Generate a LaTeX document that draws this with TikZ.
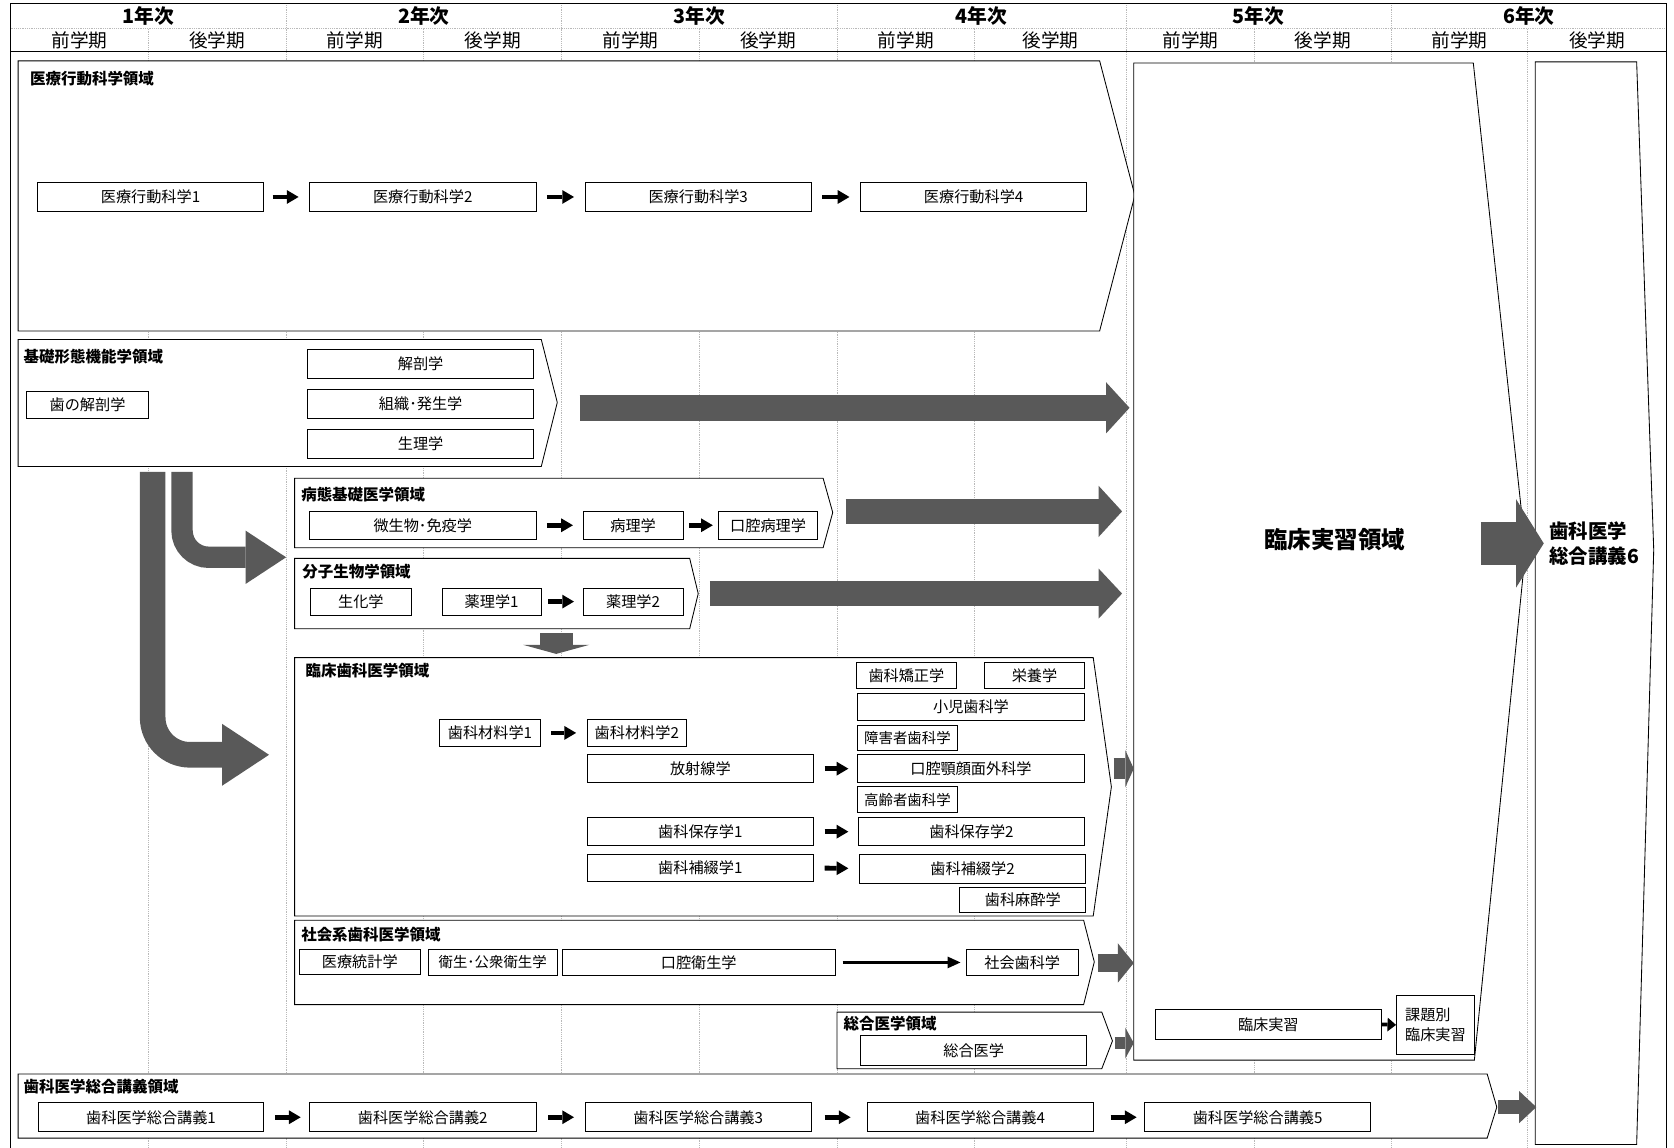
\documentclass[tikz,border=0pt]{standalone}
\usepackage{fontspec}
\setmainfont{Noto Sans CJK JP}
\usetikzlibrary{arrows.meta}
\definecolor{ag}{RGB}{89,89,89}
\definecolor{gridc}{RGB}{185,185,185}
\newcommand\bxfont{\fontsize{14.2}{19}\selectfont}
\newcommand\bx[7][]{\node[box,#1,minimum width={(#5)-(#3)},minimum height={(#6)-(#4)}] (#2) at ({((#3)+(#5))/2},{((#4)+(#6))/2}) {#7};}
\tikzset{
  box/.style={draw=black,fill=white,line width=0.7pt,inner sep=0pt,font=\bxfont},
  region/.style={draw=black,fill=white,line width=0.8pt,line join=miter},
  rtitle/.style={anchor=west,inner sep=0pt,font=\fontsize{14.5}{16}\selectfont\bfseries},
  gridline/.style={draw=gridc,line width=0.7pt,densely dotted},
  frameline/.style={draw=black,line width=1pt},
  blk/.style={line width=4.5pt,-{Triangle[length=11pt,width=13pt,line width=0pt]}},
  bigarr/.style n args={3}{draw=ag,line width=#1,-{Triangle[length=#2,width=#3,line width=0pt]}},
  yr/.style={font=\fontsize{18.5}{20}\selectfont\bfseries,inner sep=0pt},
  sem/.style={font=\fontsize{17.5}{19}\selectfont,inner sep=0pt},
}
\begin{document}
\begin{tikzpicture}[x=1pt,y=-1pt]
\useasboundingbox (0,0) rectangle (1568,1075);
% ---------- grid ----------
\foreach \gx in {268,526,784,1055,1303} \draw[gridline] (\gx,3) -- (\gx,1075);
\foreach \gx in {139,397,655,913,1175,1431} \draw[gridline] (\gx,27) -- (\gx,1075);
\draw[gridline] (10,27) -- (1561,27);
\draw[frameline] (10,3) -- (1561,3);
\draw[frameline] (10,48) -- (1561,48);
\draw[frameline] (10,3) -- (10,1075);
\draw[frameline] (1561,3) -- (1561,1075);
% ---------- header ----------
\node[yr] (y1) at (139,15) {1年次};
\node[yr] (y2) at (397,15) {2年次};
\node[yr] (y3) at (655,15) {3年次};
\node[yr] (y4) at (919.5,15) {4年次};
\node[yr] (y5) at (1179,15) {5年次};
\node[yr] (y6) at (1432,15) {6年次};
\node[sem] (s1a) at (74.5,38) {前学期};
\node[sem] (s1b) at (203.5,38) {後学期};
\node[sem] (s2a) at (332.5,38) {前学期};
\node[sem] (s2b) at (461.5,38) {後学期};
\node[sem] (s3a) at (590.5,38) {前学期};
\node[sem] (s3b) at (719.5,38) {後学期};
\node[sem] (s4a) at (848.5,38) {前学期};
\node[sem] (s4b) at (984,38) {後学期};
\node[sem] (s5a) at (1115,38) {前学期};
\node[sem] (s5b) at (1239,38) {後学期};
\node[sem] (s6a) at (1367,38) {前学期};
\node[sem] (s6b) at (1496,38) {後学期};
% ---------- regions ----------
\path[region] (17,57) -- (1030,57) -- (1063,183) -- (1030,310) -- (17,310) -- cycle;
\path[region] (17,318) -- (507,318) -- (522,377) -- (507,437) -- (17,437) -- cycle;
\path[region] (276,448) -- (771,448) -- (780,480) -- (771,513) -- (276,513) -- cycle;
\path[region] (276,523) -- (646,523) -- (654,556) -- (646,589) -- (276,589) -- cycle;
\path[region] (276,616) -- (1024,616) -- (1041,737) -- (1024,858) -- (276,858) -- cycle;
\path[region] (276,862) -- (1015,862) -- (1025,901) -- (1015,941) -- (276,941) -- cycle;
\path[region] (784,948) -- (1032,948) -- (1042,975) -- (1032,1001) -- (784,1001) -- cycle;
\path[region] (17,1006) -- (1393,1006) -- (1402,1037) -- (1393,1066) -- (17,1066) -- cycle;
\path[region] (1062,59) -- (1380,59) -- (1429,515) -- (1381,993) -- (1062,993) -- cycle;
\path[region] (1438,58) -- (1533,58) -- (1549,515) -- (1533,1072) -- (1438,1072) -- cycle;
% region titles
\node[rtitle] (t1) at (28,74) {医療行動科学領域};
\node[rtitle] (t2) at (22,334) {基礎形態機能学領域};
\node[rtitle] (t3) at (282,463) {病態基礎医学領域};
\node[rtitle] (t4) at (283,535) {分子生物学領域};
\node[rtitle] (t5) at (286,628) {臨床歯科医学領域};
\node[rtitle] (t6) at (282,875) {社会系歯科医学領域};
\node[rtitle] (t7) at (790,959) {総合医学領域};
\node[rtitle] (t8) at (22,1018) {歯科医学総合講義領域};
\node[font=\fontsize{22}{24}\selectfont\bfseries,inner sep=0pt] (t9) at (1250,505) {臨床実習領域};
\node[anchor=west,align=left,inner sep=0pt,font=\fontsize{18.2}{24}\selectfont\bfseries] (t10) at (1451,509) {歯科医学\\総合講義6};
% ---------- boxes ----------
\bx{m1}{35}{171}{247}{198}{医療行動科学1}
\bx{m2}{290}{171}{502}{198}{医療行動科学2}
\bx{m3}{548}{171}{760}{198}{医療行動科学3}
\bx{m4}{806}{171}{1018}{198}{医療行動科学4}
\bx{ha}{25}{367}{139}{392}{歯の解剖学}
\bx{kai}{288}{327}{500}{354}{解剖学}
\bx{sos}{288}{365}{500}{392}{組織･発生学}
\bx{sei}{288}{402}{500}{429}{生理学}
\bx{bi}{290}{479}{502}{505}{微生物･免疫学}
\bx{byo}{546}{479}{640}{505}{病理学}
\bx{kbyo}{673}{479}{766}{505}{口腔病理学}
\bx{seika}{291}{551}{385}{576}{生化学}
\bx{yak1}{414}{551}{507}{576}{薬理学1}
\bx{yak2}{546}{551}{640}{576}{薬理学2}
\bx{kyo}{802}{620}{896}{645}{歯科矯正学}
\bx{eiyo}{922}{620}{1016}{645}{栄養学}
\bx{shoni}{803}{649}{1016}{675}{小児歯科学}
\bx{zai1}{412}{674}{506}{699}{歯科材料学1}
\bx{zai2}{550}{674}{643}{699}{歯科材料学2}
\bx[font=\fontsize{13.5}{15}\selectfont]{sho}{803}{679}{897}{703}{障害者歯科学}
\bx{hou}{550}{707}{762}{733}{放射線学}
\bx{koku}{803}{707}{1016}{733}{口腔顎顔面外科学}
\bx[font=\fontsize{13.5}{15}\selectfont]{kou}{803}{737}{897}{761}{高齢者歯科学}
\bx{hoz1}{550}{766}{762}{792}{歯科保存学1}
\bx{hoz2}{804}{766}{1016}{792}{歯科保存学2}
\bx{hot1}{550}{800}{762}{826}{歯科補綴学1}
\bx{hot2}{805}{800}{1017}{827}{歯科補綴学2}
\bx{masui}{899}{831}{1017}{855}{歯科麻酔学}
\bx{iryo}{280}{889}{394}{913}{医療統計学}
\bx[font=\fontsize{13.5}{15}\selectfont]{eisei}{401}{889}{522}{914}{衛生･公衆衛生学}
\bx{koei}{527}{889}{782}{914}{口腔衛生学}
\bx{shakai}{905}{889}{1010}{914}{社会歯科学}
\bx{sogo}{806}{970}{1018}{998}{総合医学}
\bx{k1}{36}{1033}{247}{1060}{歯科医学総合講義1}
\bx{k2}{290}{1033}{502}{1060}{歯科医学総合講義2}
\bx{k3}{548}{1033}{760}{1060}{歯科医学総合講義3}
\bx{k4}{812}{1033}{1024}{1060}{歯科医学総合講義4}
\bx{k5}{1072}{1033}{1284}{1060}{歯科医学総合講義5}
\bx{cp}{1082}{945}{1294}{974}{臨床実習}
\bx[align=left]{kadai}{1308}{932}{1381}{988}{課題別\\臨床実習}
% ---------- small black arrows ----------
\draw[blk,shorten <=8pt,shorten >=10pt] (m1.east) -- (m2.west);
\draw[blk,shorten <=10pt,shorten >=10pt] (m2.east) -- (m3.west);
\draw[blk,shorten <=10pt,shorten >=10pt] (m3.east) -- (m4.west);
\draw[blk,shorten <=10pt,shorten >=9pt] (bi.east) -- (byo.west);
\draw[blk,shorten <=5pt,shorten >=5pt] (byo.east) -- (kbyo.west);
\draw[blk,shorten <=6pt,shorten >=8pt] (yak1.east) -- (yak2.west);
\draw[blk,shorten <=10pt,shorten >=10pt] (zai1.east) -- (zai2.west);
\draw[blk,shorten <=10pt,shorten >=8pt] (hou.east) -- (koku.west);
\draw[blk,shorten <=10pt,shorten >=9pt] (hoz1.east) -- (hoz2.west);
\draw[blk,shorten <=10pt,shorten >=10pt] (hot1.east) -- (hot2.west);
\draw[blk,shorten <=10pt,shorten >=8pt] (k1.east) -- (k2.west);
\draw[blk,shorten <=11pt,shorten >=10pt] (k2.east) -- (k3.west);
\draw[blk,shorten <=12pt,shorten >=15pt] (k3.east) -- (k4.west);
\draw[blk,shorten <=16pt,shorten >=7pt] (k4.east) -- (k5.west);
\draw[line width=2.5pt,-{Triangle[length=12pt,width=11pt,line width=0pt]},shorten <=7pt,shorten >=5pt] (koei.east) -- (shakai.west);
\draw[line width=3.5pt,-{Triangle[length=8pt,width=13pt,line width=0pt]}] (cp.east) -- (kadai.west);
% ---------- big grey arrows ----------
\coordinate (a1s) at (543,382);  \coordinate (a1e) at (1058,382);
\coordinate (a2s) at (792,479);  \coordinate (a2e) at (1051,479);
\coordinate (a3s) at (665,556);  \coordinate (a3e) at (1051,556);
\coordinate (dns) at (521,593);  \coordinate (dne) at (521,612.5);
\coordinate (cas) at (170.5,442); \coordinate (cae) at (268,522);
\coordinate (cbs) at (143,442);  \coordinate (cbe) at (252,707);
\coordinate (g1s) at (1043,720); \coordinate (g1e) at (1062,720);
\coordinate (g2s) at (1028,902); \coordinate (g2e) at (1062,902);
\coordinate (g3s) at (1044,977); \coordinate (g3e) at (1062,977);
\coordinate (g4s) at (1403,1037); \coordinate (g4e) at (1439,1037);
\coordinate (g5s) at (1387,509); \coordinate (g5e) at (1446,509);
\draw[bigarr={24pt}{22pt}{48pt}] (a1s) -- (a1e);
\draw[bigarr={24pt}{22pt}{48pt}] (a2s) -- (a2e);
\draw[bigarr={24pt}{22pt}{47pt}] (a3s) -- (a3e);
\draw[bigarr={31pt}{8.5pt}{62pt}] (dns) -- (dne);
\draw[bigarr={20pt}{38pt}{50pt},rounded corners=25pt] (cas) |- (cae);
\draw[bigarr={24pt}{44pt}{58pt},rounded corners=35pt] (cbs) |- (cbe);
\draw[bigarr={20pt}{8pt}{35pt}] (g1s) -- (g1e);
\draw[bigarr={16pt}{15pt}{37pt}] (g2s) -- (g2e);
\draw[bigarr={12pt}{8pt}{29pt}] (g3s) -- (g3e);
\draw[bigarr={13pt}{16pt}{30pt}] (g4s) -- (g4e);
\draw[bigarr={40pt}{26pt}{83pt}] (g5s) -- (g5e);
\end{tikzpicture}
\end{document}
